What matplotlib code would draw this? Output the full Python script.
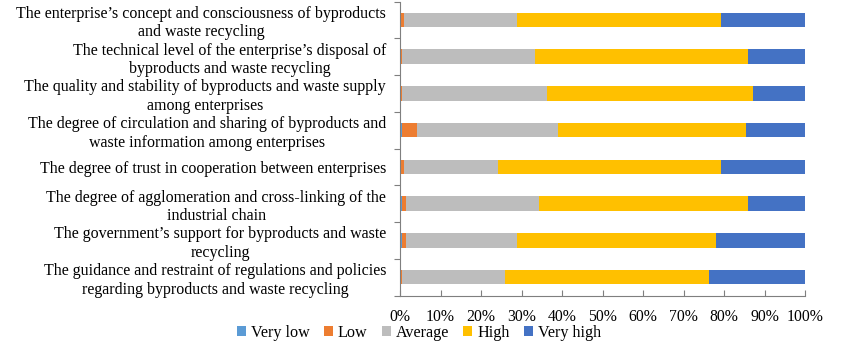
import matplotlib
matplotlib.use("Agg")
import matplotlib.pyplot as plt
import numpy as np

plt.rcParams['font.family'] = ['Liberation Serif', 'DejaVu Serif']

categories = [
    "The enterprise\u2019s concept and consciousness of byproducts\nand waste recycling",
    "The technical level of the enterprise\u2019s disposal of\nbyproducts and waste recycling",
    "The quality and stability of byproducts and waste supply\namong enterprises",
    "The degree of circulation and sharing of byproducts and\nwaste information among enterprises",
    "The degree of trust in cooperation between enterprises",
    "The degree of agglomeration and cross-linking of the\nindustrial chain",
    "The government\u2019s support for byproducts and waste\nrecycling",
    "The guidance and restraint of regulations and policies\nregarding byproducts and waste recycling",
]

series_names = ["Very low", "Low", "Average", "High", "Very high"]
very_low = [0.0, 0.0, 0.0, 0.4, 0.3, 0.4, 0.4, 0.0]
low = [1.1, 0.4, 0.5, 3.9, 0.8, 1.2, 1.2, 0.5]
average = [27.9, 33.0, 35.7, 34.6, 23.2, 32.8, 27.3, 25.5]
high = [50.3, 52.6, 51.0, 46.5, 55.0, 51.6, 49.1, 50.4]
very_high = [20.7, 14.0, 12.8, 14.6, 20.7, 14.0, 22.0, 23.6]

colors = ["#5B9BD5", "#ED7D31", "#BDBDBD", "#FFC000", "#4472C4"]

fig = plt.figure(figsize=(8.5, 3.46), dpi=100)
ax = fig.add_axes([400/850, 1-295.5/346, 405/850, 294/346])

y = np.arange(len(categories))
left = np.zeros(len(categories))
handles = []
for name, vals, c in zip(series_names, [very_low, low, average, high, very_high], colors):
    vals = np.array(vals)
    b = ax.barh(y, vals, left=left, height=0.4, color=c, label=name)
    handles.append(b)
    left += vals

ax.set_xlim(0, 100)
ax.set_ylim(len(categories) - 0.5, -0.5)
ax.set_xticks(np.arange(0, 101, 10))
ax.set_xticklabels([f"{v}%" for v in range(0, 101, 10)], fontsize=11.3)
ax.set_yticks(y)
ax.set_yticklabels(categories, fontsize=11.5, ha='right', multialignment='center',
                   linespacing=1.2)
ax.tick_params(axis='y', length=0, pad=10)
ax.set_yticks(np.arange(-0.5, len(categories), 1), minor=True)
ax.tick_params(axis='y', which='minor', length=4, color='#7f7f7f', width=0.8)
ax.tick_params(axis='x', direction='in', length=4, color='#7f7f7f', width=0.8, pad=10)

for s in ['top', 'right']:
    ax.spines[s].set_visible(False)
for s in ['left', 'bottom']:
    ax.spines[s].set_color('#7f7f7f')
    ax.spines[s].set_linewidth(0.8)

fig.legend(handles=handles, labels=series_names, loc='center',
           bbox_to_anchor=(419/850, 1-333/346), ncol=5, frameon=False,
           fontsize=11.6, handlelength=0.55, handleheight=0.55,
           handletextpad=0.3, columnspacing=0.9, borderpad=0)

fig.savefig("out.png", dpi=100)
